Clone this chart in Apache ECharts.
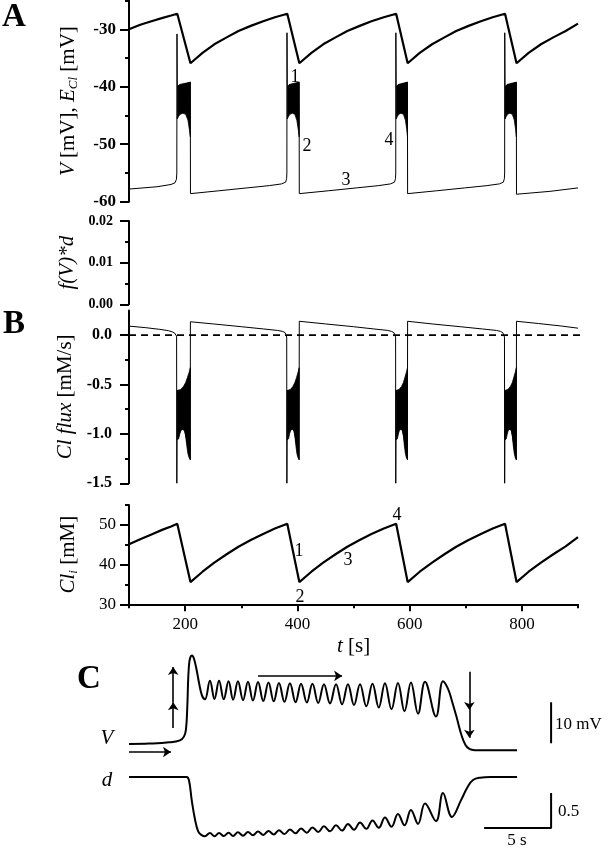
<!DOCTYPE html>
<html><head><meta charset="utf-8">
<script src="https://cdn.jsdelivr.net/npm/echarts@6/dist/echarts.min.js"></script>
<style>html,body{margin:0;padding:0;background:#fff}#c{width:611px;height:853px}</style>
</head><body><div id="c"></div><script>
// ---------- Panel A: V and E_Cl ----------
const eclT = [100,120,140,160,175,186,209.5,231,252,274,295,317,339,360,382,403.5,425,446,468,489,511,532,554,576,596.5,618,640,662,683,705,727,748,770,790.5,812,834,856,878,900];
const eclV = [-30.0,-29.2,-28.6,-28.0,-27.6,-27.3,-35.9,-34.1,-32.6,-31.4,-30.3,-29.4,-28.6,-27.9,-27.3,-35.9,-34.1,-32.6,-31.4,-30.3,-29.4,-28.6,-27.9,-27.3,-35.9,-34.1,-32.6,-31.4,-30.3,-29.4,-28.6,-27.9,-27.3,-35.9,-34.1,-32.6,-31.4,-30.3,-29.0];
const clT = eclT;
const clV = [45.1,46.4,47.6,48.8,49.6,50.3,35.6,38.2,40.5,42.6,44.5,46.2,47.7,49.1,50.3,35.6,38.2,40.5,42.6,44.5,46.2,47.7,49.1,50.3,35.6,38.2,40.5,42.6,44.5,46.2,47.7,49.1,50.3,35.6,38.2,40.5,42.6,44.6,46.9];
const vT = [100,150,175,182,184.5,185.2,185.5,186,209.2,209.5,260,310,350,372,379,380.8,381.3,381.5,382,403.1,403.4,455,505,545,566,573,574.8,575.3,575.5,576,596.1,596.4,648,698,738,760,767,768.8,769.3,769.5,770,790.1,790.4,850,900];
const vV = [-57.8,-57.4,-57.0,-56.7,-56.1,-55.0,-30.8,-40.0,-39.2,-58.6,-58.1,-57.6,-57.2,-56.9,-56.6,-56.0,-55.0,-30.6,-40.0,-39.2,-58.6,-58.1,-57.6,-57.2,-56.9,-56.6,-56.0,-55.0,-30.6,-40.0,-39.2,-58.6,-58.1,-57.6,-57.2,-56.9,-56.6,-56.0,-55.0,-30.6,-40.0,-39.2,-58.7,-58.2,-57.6];
// burst envelopes of V (dense oscillation)
const vBandHigh = [
  [[186,-40.0],[190,-39.6],[200,-39.4],[209.3,-39.2]],
  [[382,-40.0],[385.5,-39.6],[394,-39.4],[403.2,-39.2]],
  [[576,-40.0],[579.5,-39.6],[587.5,-39.4],[596.2,-39.2]],
  [[770,-40.0],[773.5,-39.6],[781.5,-39.4],[790.2,-39.2]]];
const vBandLow = [
  [[186,-45.6],[188,-45.2],[191,-44.8],[196,-44.6],[201,-44.8],[205,-45.8],[207.5,-47.4],[209.3,-48.7]],
  [[382,-45.6],[384,-45.2],[386.5,-44.8],[391,-44.6],[395.5,-44.8],[399,-45.8],[401.5,-47.4],[403.2,-48.7]],
  [[576,-45.6],[578,-45.2],[580.5,-44.8],[584.5,-44.6],[589,-44.8],[592.5,-45.8],[594.8,-47.4],[596.2,-48.7]],
  [[770,-45.6],[772,-45.2],[774.5,-44.8],[778.5,-44.6],[783,-44.8],[786.5,-45.8],[788.8,-47.4],[790.2,-48.7]]];
// ---------- Panel B: Cl flux ----------
const fluxT = [100,130,155,170,177,181,183.5,184.8,185.2,186,209.1,209.4,250,300,340,365,374,378,380.3,381,381.3,382,403.0,403.4,450,500,535,560,568,572,574.3,575,575.3,576,596.0,596.4,640,690,730,755,762,766,768.3,769,769.3,770,790.0,790.4,830,870,900];
const fluxV = [0.091,0.075,0.058,0.045,0.033,0.022,0.01,-0.01,-1.5,-0.56,-1.26,0.135,0.113,0.085,0.062,0.047,0.037,0.025,0.008,-0.02,-1.5,-0.56,-1.26,0.14,0.113,0.085,0.063,0.048,0.037,0.025,0.008,-0.02,-1.5,-0.56,-1.26,0.14,0.113,0.085,0.062,0.047,0.037,0.025,0.008,-0.02,-1.5,-0.56,-1.26,0.14,0.117,0.092,0.07];
const fluxBandHigh = [
  [[186,-0.56],[192,-0.55],[197,-0.52],[201,-0.48],[204,-0.43],[207,-0.38],[209.3,-0.33]],
  [[382,-0.56],[387.5,-0.55],[392,-0.52],[395.5,-0.48],[398.5,-0.43],[401,-0.38],[403.2,-0.33]],
  [[576,-0.56],[581,-0.55],[585.5,-0.52],[589,-0.48],[591.5,-0.43],[594,-0.38],[596.2,-0.33]],
  [[770,-0.56],[775,-0.55],[779.5,-0.52],[783,-0.48],[785.5,-0.43],[788,-0.38],[790.2,-0.33]]];
const fluxBandLow = [
  [[186,-1.06],[188.5,-1.05],[190.5,-1.0],[193,-0.96],[196,-0.955],[199,-0.97],[201,-1.02],[203,-1.12],[205,-1.2],[207,-1.24],[209.3,-1.26]],
  [[382,-1.06],[384.3,-1.05],[386,-1.0],[388.3,-0.96],[391,-0.955],[393.8,-0.97],[395.5,-1.02],[397.4,-1.12],[399.2,-1.2],[401,-1.24],[403.2,-1.26]],
  [[576,-1.06],[578.2,-1.05],[580,-1.0],[582,-0.96],[584.7,-0.955],[587.3,-0.97],[589,-1.02],[590.7,-1.12],[592.5,-1.2],[594.2,-1.24],[596.2,-1.26]],
  [[770,-1.06],[772.2,-1.05],[774,-1.0],[776,-0.96],[778.7,-0.955],[781.3,-0.97],[783,-1.02],[784.7,-1.12],[786.5,-1.2],[788.2,-1.24],[790.2,-1.26]]];
const zeroLine = [[100,0],[925,0]];
// ---------- Panel C: one burst, V and d ----------
const cVT = [0,1.5,3.0,3.8,4.1,4.25,4.35,4.42,4.5,4.6,4.7,4.85,5.05,5.25,5.45,5.67,6.04,6.38,6.72,7.07,7.43,7.77,8.13,8.51,8.88,9.25,9.63,10.02,10.41,10.8,11.19,11.6,12.01,12.43,12.84,13.27,13.69,14.12,14.55,15.0,15.45,15.9,16.34,16.79,17.24,17.71,18.17,18.64,19.1,19.59,20.07,20.56,21.04,21.57,22.09,22.91,23.43,23.8,24.1,24.45,24.78,25.1,25.4,25.8,27,28.96];
const cVV = [-57.0,-56.9,-56.6,-56.1,-55.2,-53.5,-48,-41,-37,-35.7,-35.4,-36.2,-39.0,-42.5,-45.2,-46.1,-41.6,-46.0,-41.6,-46.1,-41.7,-46.2,-41.7,-46.3,-41.8,-46.4,-41.9,-46.5,-42.0,-46.6,-42.1,-46.7,-42.2,-46.8,-42.3,-46.9,-42.3,-47.0,-42.4,-47.1,-42.4,-47.3,-42.4,-47.5,-42.4,-47.8,-42.3,-48.1,-42.2,-48.5,-42.1,-49.0,-42.0,-49.6,-41.8,-50.3,-41.7,-43.5,-46.5,-50.5,-54.5,-57.2,-58.2,-58.5,-58.5,-58.5];
const cDT = [0,4.3,4.48,4.68,4.93,5.17,5.42,5.67,6.04,6.38,6.72,7.07,7.43,7.77,8.13,8.51,8.88,9.25,9.63,10.02,10.41,10.8,11.19,11.6,12.01,12.43,12.84,13.27,13.69,14.12,14.55,15.0,15.45,15.9,16.34,16.79,17.24,17.71,18.17,18.64,19.1,19.59,20.07,20.56,21.04,21.57,22.09,22.91,23.43,24.1,24.78,25.28,25.67,26.2,27,28.96];
const cDV = [1.0,1.0,0.95,0.67,0.39,0.22,0.17,0.155,0.2,0.155,0.2,0.156,0.205,0.158,0.21,0.162,0.215,0.167,0.22,0.172,0.23,0.178,0.24,0.185,0.25,0.195,0.265,0.205,0.28,0.215,0.295,0.225,0.31,0.235,0.33,0.245,0.35,0.26,0.38,0.275,0.42,0.29,0.47,0.31,0.53,0.33,0.62,0.37,0.77,0.43,0.67,0.86,0.957,0.99,1.0,1.0];
const scaleBarV = [[31.5,-56.8],[31.5,-46.8]];        // 10 mV
const scaleBarD = [[26.5,0.271],[31.5,0.271],[31.5,0.771]]; // 5 s, 0.5
const arrowsC = [
  [[3.3,-53.1],[3.3,-46.8]],[[3.3,-46.8],[3.3,-38.2]],
  [[0,-58.95],[3.13,-58.95]],
  [[9.63,-40.4],[15.9,-40.4]],
  [[25.4,-39.4],[25.4,-48.7]],[[25.4,-48.7],[25.4,-55.5]]];
// tick values
const yTicksA = [-60,-50,-40,-30], yMinorA = [-55,-45,-35,-25];
const yTicksF = [0,0.01,0.02], yMinorF = [0.005,0.015];
const yTicksB = [-1.5,-1.0,-0.5,0], yMinorB = [-1.25,-0.75,-0.25];
const yTicksCl = [30,40,50], yMinorCl = [35,45,55];
const xTicks = [200,400,600,800], xMinor = [100,300,500,700,900];

const zip = (a,b)=>a.map((t,i)=>[t,b[i]]);
const SERIF = '"Liberation Serif","DejaVu Serif",serif';
const K = '#000';

function mainY(grid, min, max, ticks, fmt, margin, size, bold, name, gap){
  return {type:'value', gridIndex:grid, position:'left', offset:0, min, max, interval:(ticks[1]-ticks[0]),
    axisLine:{show:true, lineStyle:{color:K, width:2}},
    axisTick:{show:true, length:9, lineStyle:{color:K, width:2}, customValues:ticks},
    axisLabel:{show:true, customValues:ticks, formatter:fmt, margin, color:K, fontFamily:SERIF, fontSize:size, fontWeight:bold?'bold':'normal'},
    splitLine:{show:false},
    name, nameLocation:'middle', nameGap:gap, nameRotate:90,
    nameTextStyle:{color:K, fontFamily:SERIF, fontSize:21, rich:richName}};
}
function minorY(grid, min, max, ticks){
  return {type:'value', gridIndex:grid, position:'left', offset:0, min, max,
    axisLine:{show:false}, axisLabel:{show:false}, splitLine:{show:false},
    axisTick:{show:true, length:4, lineStyle:{color:K, width:2}, customValues:ticks}};
}
const richName = {
  i:{fontFamily:SERIF, fontSize:21, fontStyle:'italic', color:K, lineHeight:24},
  r:{fontFamily:SERIF, fontSize:21, color:K, lineHeight:24},
  sub:{fontFamily:SERIF, fontSize:13, fontStyle:'italic', color:K, lineHeight:15, verticalAlign:'bottom'}
};
function hiddenX(grid, min, max){ return {type:'value', gridIndex:grid, min, max, show:false}; }

function band(xi, yi, H, L){
  return {type:'custom', xAxisIndex:xi, yAxisIndex:yi, silent:true, z:3,
    data:H.map((h,i)=>[h[0][0], h[0][1], i]), encode:{x:0,y:1},
    renderItem(params, api){
      const i = params.dataIndex, pts = [];
      H[i].forEach(p=>pts.push(api.coord(p)));
      L[i].slice().reverse().forEach(p=>pts.push(api.coord(p)));
      return {type:'polygon', shape:{points:pts}, style:{fill:K, stroke:K, lineWidth:0.8}};
    }};
}
function line(xi, yi, data, w, extra){
  return Object.assign({type:'line', xAxisIndex:xi, yAxisIndex:yi, data, symbol:'none', silent:true,
    lineStyle:{color:K, width:w}, animation:false}, extra||{});
}
function txt(text, x, y, font, align){
  return {type:'text', x, y, silent:true, style:{text, font, fill:K, align:align||'center', verticalAlign:'middle', textAlign:align||'center', textVerticalAlign:'middle'}};
}

const option = {
  animation:false, backgroundColor:'#fff',
  grid:[
    {left:129, width:449, top:0.6, height:201.1},
    {left:129, width:449, top:221, height:83.3},
    {left:129, width:449, top:310.4, height:172.9},
    {left:129, width:449, top:505, height:99.3},
    {left:129, width:442.2, top:649.7, height:106.6},
    {left:129, width:442.2, top:770, height:77}
  ],
  xAxis:[
    hiddenX(0,100,900), hiddenX(1,100,900), hiddenX(2,100,900),
    {type:'value', gridIndex:3, position:'bottom', offset:0, min:100, max:900, interval:200,
      axisLine:{show:true, lineStyle:{color:K, width:2}},
      axisTick:{show:true, length:7, lineStyle:{color:K, width:2}, customValues:xTicks},
      axisLabel:{show:true, customValues:xTicks, margin:12, color:K, fontFamily:SERIF, fontSize:17},
      splitLine:{show:false},
      name:'{i|t} {r|[s]}', nameLocation:'middle', nameGap:30,
      nameTextStyle:{color:K, fontFamily:SERIF, fontSize:21, rich:richName}},
    {type:'value', gridIndex:3, position:'bottom', offset:0, min:100, max:900,
      axisLine:{show:false}, axisLabel:{show:false}, splitLine:{show:false},
      axisTick:{show:true, length:4, lineStyle:{color:K, width:2}, customValues:xMinor}},
    hiddenX(4,0,33), hiddenX(5,0,33)
  ],
  yAxis:[
    mainY(0,-60,-25,yTicksA,v=>String(v),13,17,true,'{i|V} {r|[mV], }{i|E}{sub|Cl}{r| [mV]}',49),
    minorY(0,-60,-25,yMinorA),
    mainY(1,0,0.02,yTicksF,v=>v.toFixed(2),16,14,true,'{i|f(V)*d}',50),
    minorY(1,0,0.02,yMinorF),
    mainY(2,-1.5,0.25,yTicksB,v=>v.toFixed(1),17,16,true,'{i|Cl flux} {r|[mM/s]}',49),
    minorY(2,-1.5,0.25,yMinorB),
    mainY(3,30,55,yTicksCl,v=>String(v),13,17,false,'{i|Cl}{sub|i}{r| [mM]}',49),
    minorY(3,30,55,yMinorCl),
    {type:'value', gridIndex:4, min:-60, max:-34, show:false},
    {type:'value', gridIndex:5, min:0, max:1.1, show:false}
  ],
  series:[
    line(0,0,zip(eclT,eclV),2.2),
    line(0,0,zip(vT,vV),1),
    band(0,0,vBandHigh,vBandLow),
    line(2,4,zeroLine,1.8,{clip:false, lineStyle:{color:K, width:1.8, type:[7,5]}}),
    line(2,4,zip(fluxT,fluxV),1),
    band(2,4,fluxBandHigh,fluxBandLow),
    line(3,6,zip(clT,clV),2.2),
    line(5,8,zip(cVT,cVV),2,{smooth:0.4}),
    line(6,9,zip(cDT,cDV),2,{smooth:0.4}),
    line(5,8,scaleBarV,2),
    line(6,9,scaleBarD,2),
    {type:'lines', coordinateSystem:'cartesian2d', xAxisIndex:5, yAxisIndex:8, silent:true,
      symbol:['none','arrow'], symbolSize:8,
      lineStyle:{color:K, width:1.6, opacity:1},
      data:arrowsC.map(c=>({coords:c}))}
  ],
  graphic:[
    txt('A',14,17,'bold 33px '+SERIF),
    txt('B',14,324,'bold 33px '+SERIF),
    txt('C',89,679,'bold 33px '+SERIF),
    txt('1',295,77,'18px '+SERIF), txt('2',307,146,'18px '+SERIF),
    txt('3',346,180,'18px '+SERIF), txt('4',389,140,'18px '+SERIF),
    txt('1',299,551,'18px '+SERIF), txt('2',300,597,'18px '+SERIF),
    txt('3',348,560,'18px '+SERIF), txt('4',397,515,'18px '+SERIF),
    txt('V',107,738,'italic 21px '+SERIF), txt('d',107,780,'italic 21px '+SERIF),
    txt('10 mV',555,725,'17px '+SERIF,'left'),
    txt('0.5',558,812,'17px '+SERIF,'left'),
    txt('5 s',517,841,'17px '+SERIF)
  ]
};
const chart = echarts.init(document.getElementById('c'), null, {renderer:'canvas'});
chart.setOption(option);
</script></body></html>
